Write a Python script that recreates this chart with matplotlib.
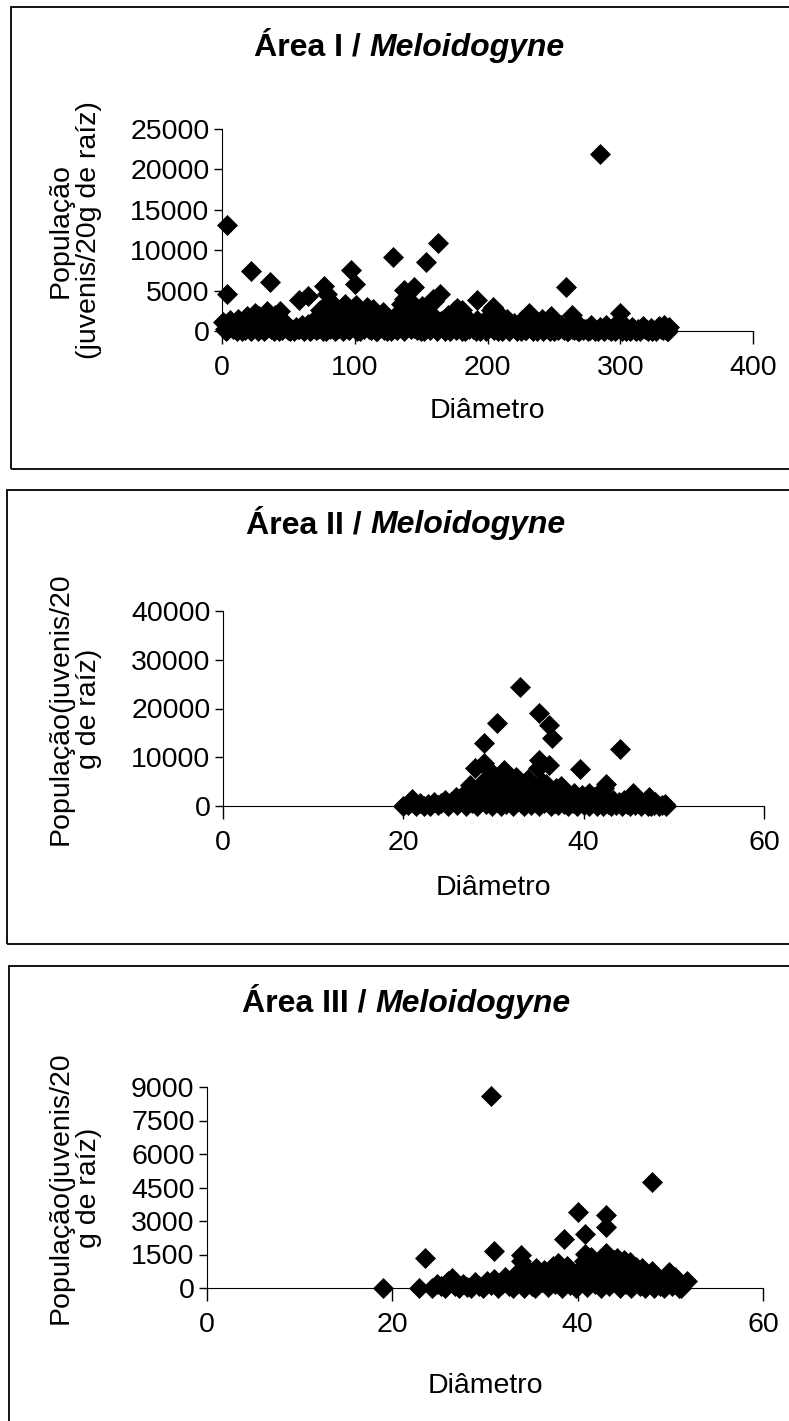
import matplotlib
matplotlib.use('Agg')
import matplotlib.pyplot as plt
from matplotlib.patches import Rectangle

plt.rcParams['font.family'] = ['Liberation Sans', 'DejaVu Sans']

# figure size in pixels (dpi 100)
W, H = 789, 1421

# ---- Área I ----
area1_diam = [
    4, 4, 22, 36, 58, 65, 77, 79, 81, 97, 100, 129, 137, 137, 145, 154, 163, 164, 159, 192,
    259, 285, 264, 300, 231, 248, 204, 207, 177, 181,
    1, 2, 3, 5, 6, 8, 9, 11, 12, 14, 16, 17, 19, 20, 22, 23, 25, 26, 28, 29,
    31, 32, 34, 35, 37, 38, 40, 41, 43, 44, 46, 47, 49, 50, 52, 54, 56, 58, 60, 62,
    63, 65, 67, 69, 70, 72, 74, 75, 77, 78, 80, 82, 83, 85, 87, 88, 90, 92, 93, 95,
    97, 98, 100, 101, 103, 104, 106, 108, 109, 111, 113, 114, 116, 118, 119, 121, 123, 124, 126, 128,
    130, 131, 133, 135, 136, 138, 140, 141, 143, 145, 146, 148, 150, 151, 153, 155, 156, 158, 160, 161,
    163, 165, 166, 168, 170, 171, 173, 175, 177, 178, 180, 182, 183, 185, 187, 189, 190, 192, 194, 196,
    198, 200, 201, 203, 205, 207, 209, 211, 213, 215, 217, 219, 220, 222, 224, 226, 228, 230, 233, 235,
    237, 239, 241, 243, 245, 247, 249, 251, 253, 255, 257, 260, 262, 264, 266, 268, 270, 272, 274, 276,
    278, 280, 283, 285, 287, 289, 291, 293, 295, 297, 299, 301, 303, 305, 307, 309, 311, 313, 315, 317,
    319, 321, 323, 325, 327, 329, 331, 333, 335, 337,
    4, 10, 15, 21, 27, 33, 39, 45, 51, 57, 61, 66, 71, 76, 81, 86, 91, 96, 102, 107,
    112, 117, 122, 127, 132, 137, 142, 147, 152, 157, 162, 167, 172, 176, 181, 186, 191, 195, 199, 204,
    208, 212, 216, 221, 225, 229, 234, 238, 242, 246, 250, 254, 258, 261, 265, 269, 273, 277, 281, 284,
    288, 292, 296, 300, 304, 308, 312, 316, 320, 324, 328, 332, 336,
]
area1_pop = [
    13100, 4600, 7400, 6100, 3800, 4300, 5600, 4600, 3700, 7600, 5800, 9200, 5100, 3900, 5400, 8600, 10900, 4600, 4000, 3800,
    5500, 21900, 2000, 2200, 2200, 1800, 3000, 2300, 2800, 2600,
    1100, 300, 0, 600, 1300, 200, 900, 0, 1500, 400, 800, 100, 1900, 500, 0, 1200, 2200, 600, 1800, 200,
    900, 0, 2500, 1400, 300, 1000, 2000, 500, 0, 2500, 1200, 400, 800, 100, 300, 0, 500, 200, 700, 0,
    300, 900, 100, 600, 1500, 200, 2600, 900, 300, 0, 1800, 2800, 600, 0, 1200, 400, 2500, 1000, 3400, 200,
    1800, 2700, 600, 3200, 1500, 0, 2400, 900, 3000, 300, 1900, 2700, 0, 1200, 500, 2300, 1500, 0, 800, 300,
    1400, 200, 2300, 3300, 1100, 600, 2900, 3800, 1700, 400, 2600, 1000, 0, 3100, 1800, 500, 2300, 900, 3700, 1500,
    200, 1200, 600, 0, 2000, 400, 1000, 2500, 300, 1600, 700, 2000, 0, 1300, 500, 200, 900, 1400, 0, 600,
    300, 1700, 900, 2600, 100, 1200, 400, 0, 800, 1500, 200, 600, 1000, 0, 400, 1300, 100, 700, 300, 1000,
    0, 500, 1500, 200, 800, 0, 1200, 400, 100, 700, 300, 0, 900, 200, 500, 0, 600, 100, 300, 0,
    700, 200, 0, 500, 100, 800, 300, 0, 600, 100, 400, 0, 800, 200, 0, 500, 100, 300, 0, 600,
    200, 0, 400, 100, 0, 600, 200, 800, 0, 500,
    100, 200, 0, 100, 0, 200, 0, 100, 0, 200, 100, 0, 100, 0, 200, 100, 0, 100, 0, 200,
    100, 0, 100, 0, 100, 0, 200, 100, 0, 100, 0, 200, 0, 100, 0, 200, 0, 100, 0, 200,
    0, 100, 0, 200, 0, 100, 0, 200, 0, 100, 0, 200, 100, 0, 100, 0, 200, 100, 0, 200,
    0, 100, 0, 200, 0, 100, 0, 200, 100, 0, 200, 100, 0,
]
area1_xticks = [0, 100, 200, 300, 400]
area1_yticks = [0, 5000, 10000, 15000, 20000, 25000]

# ---- Área II ----
area2_diam = [
    20.0, 21.0, 22.3, 23.4, 24.6, 25.8, 26.6, 27.4, 27.9, 28.9, 28.9, 29.7, 30.4, 30.8, 31.6, 32.5, 32.9, 33.3, 34.1, 34.9,
    35.0, 35.0, 36.1, 36.1, 36.5, 35.8, 36.9, 38.9, 39.6, 40.6, 41.7, 42.5, 44.0, 45.5, 46.2, 47.3, 47.8, 49.0, 42.2, 37.5,
    33.8, 31.2,
    20.5, 21.4, 21.8, 22.7, 23.0, 23.8, 24.2, 25.0, 25.3, 25.9, 26.2, 26.9, 27.1, 27.6, 27.8, 28.2, 28.4, 28.6, 29.0, 29.2,
    29.4, 29.6, 29.8, 30.0, 30.2, 30.4, 30.6, 30.8, 31.0, 31.2, 31.4, 31.6, 31.8, 32.0, 32.2, 32.4, 32.6, 32.8, 33.0, 33.2,
    33.4, 33.6, 33.8, 34.0, 34.2, 34.4, 34.6, 34.8, 35.0, 35.2, 35.4, 35.6, 35.8, 36.0, 36.2, 36.4, 36.6, 36.8, 37.0, 37.2,
    37.4, 37.6, 37.8, 38.0, 38.3, 38.5, 38.8, 39.0, 39.3, 39.5, 39.8, 40.0, 40.3, 40.6, 40.9, 41.2, 41.5, 41.8, 42.1, 42.4,
    42.7, 43.0, 43.3, 43.6, 43.9, 44.2, 44.5, 44.8, 45.1, 45.4, 45.7, 46.0, 46.4, 46.8, 47.1, 47.5, 47.9, 48.3, 48.7, 49.1,
]
area2_pop = [
    0, 1500, 0, 900, 1200, 1900, 2200, 4300, 7700, 8750, 13000, 7000, 17000, 6300, 5300, 6000, 24500, 4000, 2600, 7700,
    9400, 19150, 16550, 8400, 13900, 4600, 3600, 2600, 7600, 2600, 2200, 4600, 11600, 2600, 900, 1900, 200, 500, 3600, 4200,
    5600, 7400,
    300, 0, 700, 400, 0, 200, 600, 0, 900, 300, 1100, 0, 1600, 700, 2900, 0, 3600, 1500, 5200, 400,
    2600, 3900, 0, 1800, 4800, 900, 3000, 0, 5800, 2100, 400, 3500, 1200, 4600, 0, 2700, 1500, 3900, 600, 2200,
    0, 3100, 1300, 4400, 300, 2000, 900, 3400, 0, 1700, 4900, 600, 2500, 1100, 3300, 0, 1900, 700, 2800, 200,
    1500, 3100, 400, 2200, 0, 1300, 600, 1900, 0, 1000, 2300, 300, 1400, 0, 800, 1800, 100, 1100, 0, 1900,
    500, 0, 1300, 300, 800, 0, 1200, 400, 0, 900, 200, 1500, 0, 600, 100, 0, 900, 0, 200, 0,
]
area2_xticks = [0, 20, 40, 60]
area2_yticks = [0, 10000, 20000, 30000, 40000]

# ---- Área III ----
area3_diam = [
    19.0, 22.9, 23.5, 30.6, 31.0, 31.0, 33.9, 33.9, 35.5, 37.9, 38.5, 40.0, 40.8, 40.8, 43.1, 43.1, 43.1, 43.9, 45.0, 48.0,
    46.9, 48.0, 49.9, 51.8, 50.9, 26.4,
    24.3, 24.8, 25.3, 25.7, 26.0, 26.8, 27.2, 27.6, 28.1, 28.5, 28.9, 29.4, 29.8, 30.2, 30.6, 31.4, 31.8, 32.2, 32.6, 33.0,
    33.4, 33.6, 34.2, 34.4, 34.8, 35.1, 35.4, 35.8, 36.1, 36.4, 36.8, 37.0, 37.3, 37.6, 38.0, 38.3, 38.6, 38.9, 39.2, 39.5,
    39.8, 40.1, 40.4, 40.7, 41.0, 41.3, 41.6, 41.9, 42.2, 42.5, 42.8, 43.1, 43.4, 43.7, 44.0, 44.3, 44.6, 44.9, 45.2, 45.5,
    45.8, 46.1, 46.4, 46.7, 47.0, 47.3, 47.6, 47.9, 48.2, 48.5, 48.9, 49.3, 49.7, 50.2, 50.5, 51.2,
    41.4, 42.0, 42.6, 43.5, 44.2, 44.8, 45.6, 46.3, 39.0, 40.2, 36.6, 34.0,
]
area3_pop = [
    0, 0, 1340, 8600, 1670, 400, 1460, 1190, 890, 1100, 2200, 3390, 2440, 1530, 3270, 2750, 1560, 1260, 1260, 4730,
    890, 740, 710, 330, 0, 450,
    0, 200, 100, 0, 300, 100, 0, 200, 50, 0, 250, 100, 0, 300, 150, 0, 200, 500, 100, 0,
    650, 300, 0, 900, 400, 100, 0, 600, 250, 800, 50, 450, 1000, 200, 700, 0, 400, 1000, 150, 600,
    0, 800, 300, 1200, 50, 600, 1000, 200, 800, 0, 1300, 500, 100, 900, 300, 1100, 0, 600, 200, 900,
    0, 500, 750, 100, 400, 0, 600, 200, 0, 400, 100, 0, 300, 100, 500, 0,
    1400, 1100, 1250, 1000, 1350, 850, 1150, 950, 700, 500, 650, 300,
]
area3_xticks = [0, 20, 40, 60]
area3_yticks = [0, 1500, 3000, 4500, 6000, 7500, 9000]

titles = ["Área I /", "Área II /", "Área III /"]
species = "Meloidogyne"
ylabels = ["População\n(juvenis/20g de raíz)",
           "População(juvenis/20\ng de raíz)",
           "População(juvenis/20\ng de raíz)"]
xlabel = "Diâmetro"

# layout in pixels: axes (left, top, right, bottom), box (left, top, bottom),
# title baseline y, title centre x, x label y
panels = [
    dict(ax=(222, 129, 753, 331), box=(11, 7, 469), title_y=56, title_x=409, xlab_y=411),
    dict(ax=(223, 611, 764, 806), box=(7, 490, 944), title_y=533, title_x=406, xlab_y=888),
    dict(ax=(207, 1087, 763, 1288), box=(9, 966, 1440), title_y=1012, title_x=406, xlab_y=1386),
]

TICK_SIZE = 20.5
LABEL_SIZE = 20.5
TITLE_SIZE = 23


def fx(px):
    return px / W


def fy(py):
    return 1 - py / H


def draw_panel(fig, p, diam, pop, xticks, yticks, ylab):
    l, t, r, b = p['ax']
    ax = fig.add_axes([fx(l), fy(b), fx(r) - fx(l), fy(t) - fy(b)])
    ax.plot(diam, pop, linestyle='none', marker='D', markersize=10.5, markeredgewidth=0.5,
            color='black', clip_on=False, zorder=3)
    ax.set_xlim(xticks[0], xticks[-1])
    ax.set_ylim(yticks[0], yticks[-1])
    ax.set_xticks(xticks)
    ax.set_xticklabels([str(v) for v in xticks])
    ax.set_yticks(yticks)
    ax.set_yticklabels([str(v) for v in yticks])
    ax.spines['top'].set_visible(False)
    ax.spines['right'].set_visible(False)
    ax.tick_params(axis='x', direction='out', length=9, width=1, pad=8, labelsize=TICK_SIZE)
    ax.tick_params(axis='y', direction='out', length=6, width=1, pad=3, labelsize=TICK_SIZE)
    ax.patch.set_alpha(0)

    # outer frame of the chart
    bl, bt, bb = p['box']
    fig.patches.append(Rectangle((fx(bl), fy(bb)), 1.1, fy(bt) - fy(bb), transform=fig.transFigure,
                                 fill=False, edgecolor='black', linewidth=1.3, clip_on=False))

    fig.text(fx((l + r) / 2), fy(p['xlab_y']), xlabel, fontsize=LABEL_SIZE, ha='center', va='center')
    fig.text(fx(75), fy((t + b) / 2), ylab, fontsize=LABEL_SIZE, rotation=90, ha='center', va='center',
             multialignment='center', linespacing=1.1)
    return ax


def draw_title(fig, renderer, p, roman):
    y = fy(p['title_y'])
    t1 = fig.text(0, y, roman, fontsize=TITLE_SIZE, fontweight='bold', va='baseline', ha='left')
    t2 = fig.text(0, y, species, fontsize=TITLE_SIZE, fontweight='bold', fontstyle='italic',
                  va='baseline', ha='left')
    w1 = t1.get_window_extent(renderer).width
    w2 = t2.get_window_extent(renderer).width
    gap = 0.28 * TITLE_SIZE * 100 / 72
    x0 = p['title_x'] - (w1 + gap + w2) / 2
    t1.set_x(fx(x0))
    t2.set_x(fx(x0 + w1 + gap))


fig = plt.figure(figsize=(W / 100, H / 100), dpi=100)
fig.patch.set_facecolor('white')

data = [(area1_diam, area1_pop, area1_xticks, area1_yticks),
        (area2_diam, area2_pop, area2_xticks, area2_yticks),
        (area3_diam, area3_pop, area3_xticks, area3_yticks)]

for p, (d, v, xt, yt), ylab in zip(panels, data, ylabels):
    draw_panel(fig, p, d, v, xt, yt, ylab)

fig.canvas.draw()
renderer = fig.canvas.get_renderer()
for p, roman in zip(panels, titles):
    draw_title(fig, renderer, p, roman)

fig.savefig('out.png', dpi=100)
plt.close(fig)
